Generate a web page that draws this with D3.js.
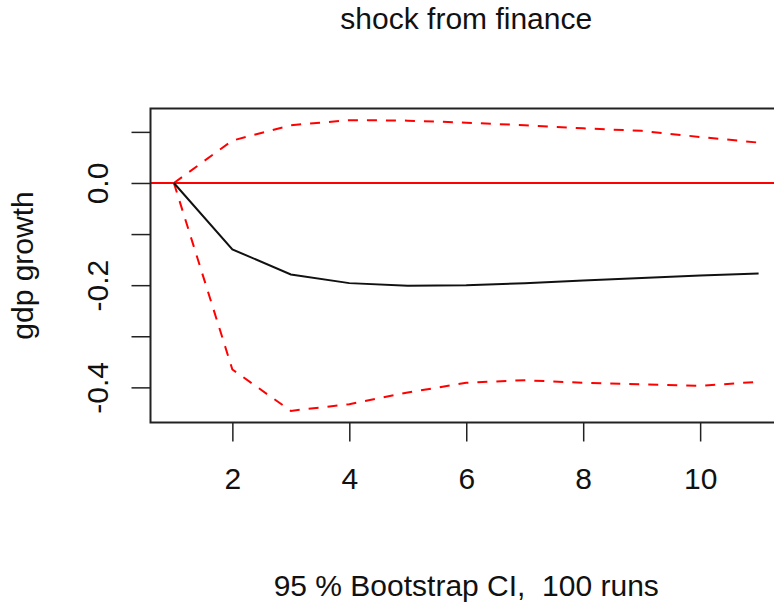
<!DOCTYPE html>
<html>
<head>
<meta charset="utf-8">
<script src="https://cdn.jsdelivr.net/npm/d3@7"></script>
<style>
  body { margin: 0; background: #fff; }
  text { font-family: "Liberation Sans", Arial, sans-serif; fill: #111; white-space: pre; }
</style>
</head>
<body>
<script>
var width = 774,
  height = 605;

// impulse response data
var steps = [1, 2, 3, 4, 5, 6, 7, 8, 9, 10, 11];
var irf = [0, -0.130, -0.179, -0.196, -0.201, -0.200, -0.196, -0.191, -0.186, -0.181, -0.177];
var upper = [0, 0.083, 0.113, 0.123, 0.122, 0.118, 0.113, 0.107, 0.102, 0.090, 0.079];
var lower = [0, -0.365, -0.446, -0.433, -0.410, -0.391, -0.386, -0.391, -0.394, -0.397, -0.389];

var xTicks = [2, 4, 6, 8, 10];
var yTicks = [-0.4, -0.3, -0.2, -0.1, 0.0, 0.1];
var yTickLabels = ["-0.4", "-0.2", "0.0"];

var title = "shock from finance",
  subtitle = "95 % Bootstrap CI,  100 runs",
  yTitle = "gdp growth";

// plot region (window.top is taken, so prefixed names)
var plotLeft = 150.5, plotRight = 782, plotTop = 108.5, plotBottom = 422.5;

var svg = d3.select("body").append("svg")
  .attr("width", width)
  .attr("height", height);

// R style 4% padding on both axes
var xr = d3.extent(steps), xpad = (xr[1] - xr[0]) * 0.04;
var x = d3.scaleLinear()
  .domain([xr[0] - xpad, xr[1] + xpad])
  .range([plotLeft, plotRight]);

var yr = d3.extent(upper.concat(lower, irf)), ypad = (yr[1] - yr[0]) * 0.04;
var y = d3.scaleLinear()
  .domain([yr[0] - ypad, yr[1] + ypad])
  .range([plotBottom, plotTop]);

// axes
var xAxis = svg.append("g")
  .attr("transform", "translate(0," + plotBottom + ")")
  .call(d3.axisBottom(x).tickValues(xTicks).tickSize(19).tickFormat(d3.format("d")));
xAxis.select(".domain").remove();
xAxis.selectAll("line").attr("stroke", "#222").attr("stroke-width", 1.5);
xAxis.selectAll("text")
  .attr("y", 66.5).attr("dy", 0)
  .attr("font-size", 30).attr("font-family", null).attr("fill", "#111");

var yAxis = svg.append("g")
  .attr("transform", "translate(" + plotLeft + ",0)")
  .call(d3.axisLeft(y).tickValues(yTicks).tickSize(19)
    .tickFormat(function (d) {
      var s = d3.format(".1f")(d).replace("−", "-");
      return yTickLabels.indexOf(s) >= 0 ? s : "";
    }));
yAxis.select(".domain").remove();
yAxis.selectAll("line").attr("stroke", "#222").attr("stroke-width", 1.5);
yAxis.selectAll("text")
  .attr("transform", "rotate(-90)")
  .attr("x", 0).attr("y", -43).attr("dy", 0)
  .attr("text-anchor", "middle")
  .attr("font-size", 30).attr("font-family", null).attr("fill", "#111");

// zero line
svg.append("line")
  .attr("x1", plotLeft).attr("x2", plotRight)
  .attr("y1", y(0)).attr("y2", y(0))
  .attr("stroke", "#ff0000").attr("stroke-width", 2);

var line = d3.line()
  .x(function (d, i) { return x(steps[i]); })
  .y(function (d) { return y(d); });

// confidence bands
[upper, lower].forEach(function (band) {
  svg.append("path")
    .datum(band)
    .attr("d", line)
    .attr("fill", "none")
    .attr("stroke", "#ff0000")
    .attr("stroke-width", 2)
    .attr("stroke-dasharray", "10,9");
});

// response
svg.append("path")
  .datum(irf)
  .attr("d", line)
  .attr("fill", "none")
  .attr("stroke", "#111")
  .attr("stroke-width", 2);

// box
svg.append("rect")
  .attr("x", plotLeft).attr("y", plotTop)
  .attr("width", plotRight - plotLeft).attr("height", plotBottom - plotTop)
  .attr("fill", "none")
  .attr("stroke", "#222")
  .attr("stroke-width", 2);

var mid = (plotLeft + plotRight) / 2;

svg.append("text")
  .attr("x", mid).attr("y", 29)
  .attr("text-anchor", "middle")
  .attr("font-size", 30)
  .text(title);

svg.append("text")
  .attr("x", mid).attr("y", 596)
  .attr("text-anchor", "middle")
  .attr("font-size", 30)
  .text(subtitle);

svg.append("text")
  .attr("transform", "translate(33," + ((plotTop + plotBottom) / 2) + ") rotate(-90)")
  .attr("text-anchor", "middle")
  .attr("font-size", 30)
  .text(yTitle);
</script>
</body>
</html>
